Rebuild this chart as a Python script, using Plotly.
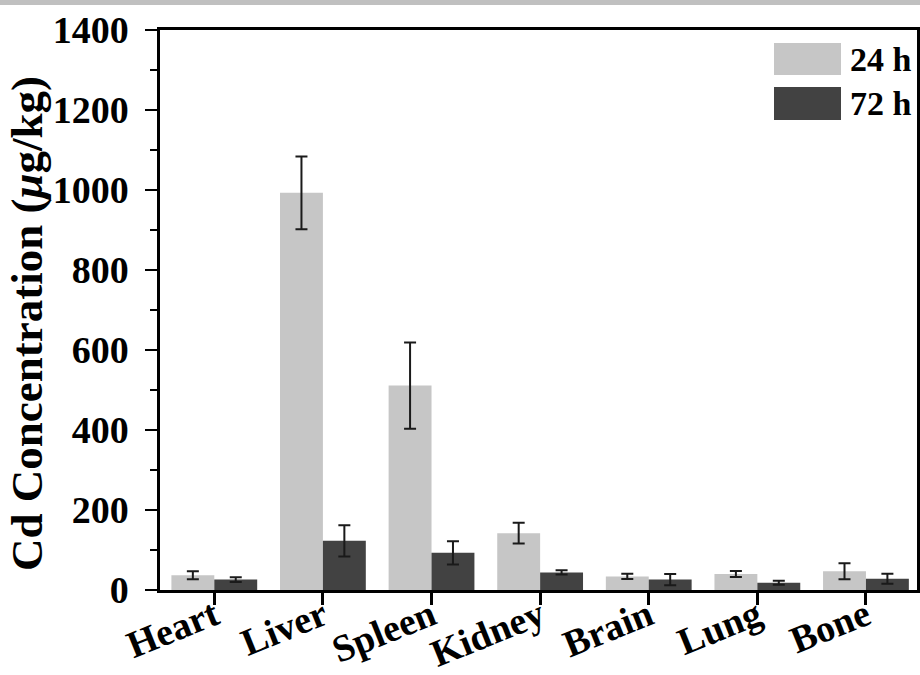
import plotly.graph_objects as go

organs = ["Heart", "Liver", "Spleen", "Kidney", "Brain", "Lung", "Bone"]
conc_24h = [37, 993, 511, 142, 34, 40, 47]
err_24h = [10, 91, 108, 26, 6.5, 7.5, 20]
conc_72h = [26, 123, 93, 44, 26, 18, 28]
err_72h = [6, 39, 29, 5.5, 14, 5, 12.5]
series_names = ["24 h", "72 h"]
y_ticks = [0, 200, 400, 600, 800, 1000, 1200, 1400]
y_title = "Cd Concentration (<i>μ</i>g/kg)"

FONT = "Liberation Serif"
LIGHT = "#c6c6c6"
DARK = "#424242"

fig = go.Figure()
fig.add_trace(go.Bar(
    x=organs, y=conc_24h, name=series_names[0], marker_color=LIGHT,
    marker_line_width=0,
    error_y=dict(type="data", array=err_24h, color="#1a1a1a", thickness=2, width=6),
    showlegend=False,
))
fig.add_trace(go.Bar(
    x=organs, y=conc_72h, name=series_names[1], marker_color=DARK,
    marker_line_width=0,
    error_y=dict(type="data", array=err_72h, color="#1a1a1a", thickness=2, width=6),
    showlegend=False,
))

# custom legend (large swatches as in reference)
W, H, L, T = 757, 560, 160, 30
def px_x(p):
    return (p - L) / W
def px_y(p):
    return (T + H - p) / H

legend_items = [(series_names[0], LIGHT, 43, 75), (series_names[1], DARK, 87, 120)]
shapes = []
annotations = []
for name, col, ya, yb in legend_items:
    shapes.append(dict(type="rect", xref="paper", yref="paper",
                       x0=px_x(774), x1=px_x(841), y0=px_y(yb), y1=px_y(ya),
                       fillcolor=col, line=dict(width=0)))
    annotations.append(dict(xref="paper", yref="paper", x=px_x(848), y=px_y((ya + yb) / 2),
                            text=name, showarrow=False, xanchor="left", yanchor="middle",
                            font=dict(family=FONT, size=34, color="black", weight="bold")))

# y-axis title
annotations.append(dict(xref="paper", yref="paper", x=px_x(27), y=px_y(324),
                        text=y_title, textangle=-90, showarrow=False,
                        xanchor="center", yanchor="middle",
                        font=dict(family=FONT, size=45, color="black", weight="bold")))

# grey strip along top edge
shapes.append(dict(type="rect", xref="paper", yref="paper",
                   x0=px_x(0), x1=px_x(920), y0=px_y(5), y1=px_y(0),
                   fillcolor="#c0c0c0", line=dict(width=0), layer="above"))

fig.update_layout(
    width=920, height=675,
    margin=dict(l=L, r=920 - L - W, t=T, b=675 - T - H, autoexpand=False),
    paper_bgcolor="white", plot_bgcolor="white",
    barmode="group", bargap=0.21, bargroupgap=0,
    font=dict(family=FONT, color="black", weight="bold"),
    shapes=shapes, annotations=annotations,
)
fig.update_xaxes(
    range=[-0.5, 6.47], showline=True, linecolor="black", linewidth=2.5, mirror=True,
    ticks="outside", ticklen=12, tickwidth=2.5, tickcolor="black",
    tickangle=-22, showgrid=False, automargin=False, ticklabelstandoff=-26,
    tickfont=dict(family=FONT, size=38, color="black", weight="bold"),
)
fig.update_yaxes(
    range=[0, 1400], tickvals=y_ticks, showline=True, linecolor="black", linewidth=2.5,
    mirror=True, ticks="outside", ticklen=12, tickwidth=2, tickcolor="black",
    showgrid=False, zeroline=False, ticklabelstandoff=9, automargin=False,
    minor=dict(dtick=100, ticks="outside", ticklen=7, tickwidth=2, tickcolor="black", showgrid=False),
    tickfont=dict(family=FONT, size=38, color="black", weight="bold"),
)

fig.write_html("out.html")
